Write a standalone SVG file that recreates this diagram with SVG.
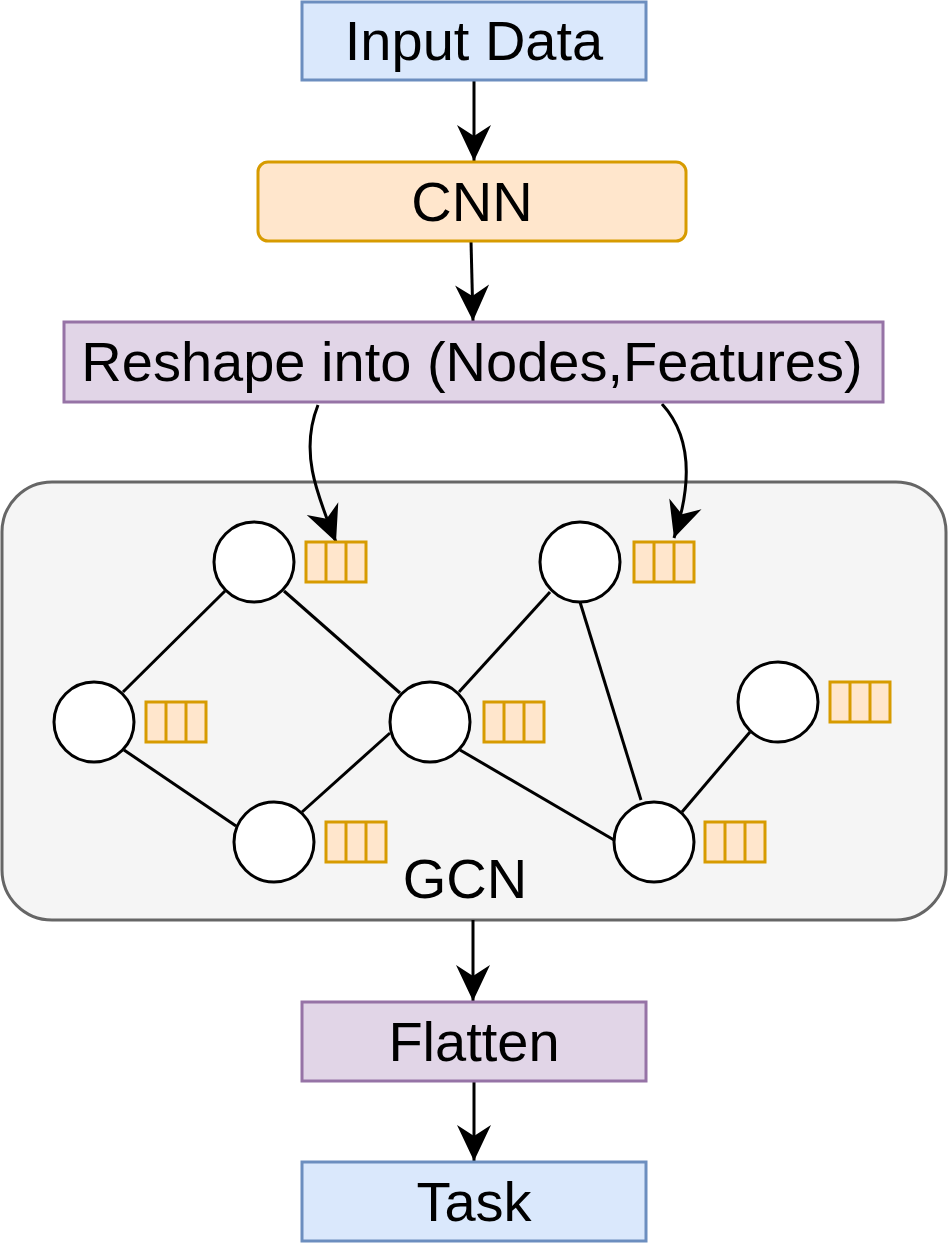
<svg xmlns="http://www.w3.org/2000/svg" width="948" height="1244" viewBox="0 0 948 1244">
<style>
.lbl{font-family:"Liberation Sans",Arial,sans-serif;font-size:56px;fill:#000;text-anchor:middle}
.blue{fill:#dae8fc;stroke:#6c8ebf;stroke-width:3}
.orange{fill:#ffe6cc;stroke:#d79b00;stroke-width:3}
.purple{fill:#e1d5e7;stroke:#9673a6;stroke-width:3}
.gnode{fill:#fff;stroke:#000;stroke-width:3}
.feat{fill:#ffe6cc;stroke:#d79b00;stroke-width:3}
.edge{stroke:#000;stroke-width:3;fill:none}
.arr{stroke:#000;stroke-width:3;fill:none;marker-end:url(#ah)}
</style>
<defs>
<marker id="ah" markerUnits="userSpaceOnUse" markerWidth="40" markerHeight="40" viewBox="-38 -18 40 36" refX="0" refY="0" orient="auto">
<path d="M0,0 L-36,-17 L-25,0 L-36,17 Z" fill="#000"/>
</marker>
<g id="fv">
<rect class="feat" x="0" y="0" width="60" height="40"/>
<line x1="20" y1="0" x2="20" y2="40" stroke="#d79b00" stroke-width="3"/>
<line x1="40" y1="0" x2="40" y2="40" stroke="#d79b00" stroke-width="3"/>
</g>
</defs>
<rect width="948" height="1244" fill="#fff"/>

<g id="gcn">
<rect x="2" y="482" width="944" height="438" rx="50" ry="50" fill="#f5f5f5" stroke="#666666" stroke-width="3"/>
<text class="lbl" x="465" y="898">GCN</text>
</g>

<g id="connectors">
<line class="arr" x1="474" y1="80" x2="474" y2="161"/>
<line class="arr" x1="471" y1="241" x2="473" y2="321"/>
<path class="arr" d="M318,405 C300,450 315,490 336,542"/>
<path class="arr" d="M662,404 C695,440 690,490 674,538"/>
<line class="arr" x1="473" y1="920" x2="473" y2="1001"/>
<line class="arr" x1="474" y1="1081" x2="474" y2="1161"/>
<line class="edge" x1="225" y1="591" x2="123" y2="692"/>
<line class="edge" x1="284" y1="591" x2="400" y2="693"/>
<line class="edge" x1="550" y1="592" x2="459" y2="692"/>
<line class="edge" x1="580" y1="602" x2="641" y2="800"/>
<line class="edge" x1="124" y1="750" x2="236" y2="826"/>
<line class="edge" x1="390" y1="733" x2="302" y2="812"/>
<line class="edge" x1="460" y1="750" x2="614" y2="840"/>
<line class="edge" x1="750" y1="732" x2="682" y2="812"/>
</g>

<g id="input"><rect class="blue" x="302" y="2" width="344" height="78"/><text class="lbl" x="474" y="60">Input Data</text></g>
<g id="cnn"><rect class="orange" x="258" y="162" width="428" height="79" rx="10" ry="10"/><text class="lbl" x="472" y="221">CNN</text></g>
<g id="reshape"><rect class="purple" x="64" y="322" width="819" height="80"/><text class="lbl" x="472" y="381">Reshape into (Nodes,Features)</text></g>

<g id="nA"><circle class="gnode" cx="254" cy="562" r="40"/><use href="#fv" x="306" y="542"/></g>
<g id="nB"><circle class="gnode" cx="580" cy="562" r="40"/><use href="#fv" x="634" y="542"/></g>
<g id="nC"><circle class="gnode" cx="94" cy="722" r="40"/><use href="#fv" x="146" y="702"/></g>
<g id="nD"><circle class="gnode" cx="430" cy="722" r="40"/><use href="#fv" x="484" y="702"/></g>
<g id="nE"><circle class="gnode" cx="778" cy="702" r="40"/><use href="#fv" x="830" y="682"/></g>
<g id="nF"><circle class="gnode" cx="274" cy="842" r="40"/><use href="#fv" x="326" y="822"/></g>
<g id="nG"><circle class="gnode" cx="654" cy="842" r="40"/><use href="#fv" x="705" y="822"/></g>

<g id="flatten"><rect class="purple" x="302" y="1002" width="344" height="79"/><text class="lbl" x="474" y="1061">Flatten</text></g>
<g id="task"><rect class="blue" x="302" y="1162" width="344" height="79"/><text class="lbl" x="474" y="1221">Task</text></g>
</svg>
